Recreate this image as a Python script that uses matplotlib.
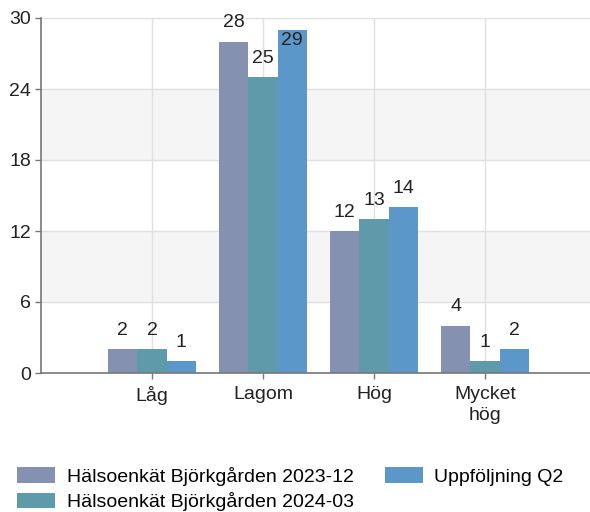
import matplotlib.pyplot as plt
import numpy as np

plt.rcParams['font.family'] = ['Liberation Sans', 'DejaVu Sans']

categories = ["Låg", "Lagom", "Hög", "Mycket\nhög"]
series_names = ["Hälsoenkät Björkgården 2023-12",
                "Hälsoenkät Björkgården 2024-03",
                "Uppföljning Q2"]
survey_2023_12 = [2, 28, 12, 4]
survey_2024_03 = [2, 25, 13, 1]
followup_q2 = [1, 29, 14, 2]
y_ticks = [0, 6, 12, 18, 24, 30]

colors = ["#8591b0", "#5f9aaa", "#5b97c9"]
bar_width = 0.264
y_max = 30
fs = 14

fig = plt.figure(figsize=(5.9, 5.12), dpi=100)
ax = fig.add_axes([41 / 590, 139 / 512, 1 - 41 / 590, (373 - 18) / 512])

x = np.arange(1, len(categories) + 1)

# alternating bands
for i in range(len(y_ticks) - 1):
    if i % 2 == 1:
        ax.axhspan(y_ticks[i], y_ticks[i + 1], color="#f5f5f5", zorder=0, lw=0)

handles = []
for j, vals in enumerate([survey_2023_12, survey_2024_03, followup_q2]):
    pos = x + (j - 1) * bar_width
    bars = ax.bar(pos, vals, bar_width, color=colors[j], label=series_names[j], zorder=3)
    handles.append(bars)
    for b, v in zip(bars, vals):
        if v > y_max - 1.5:
            ax.annotate(f"{v}", (b.get_x() + b.get_width() / 2, v), xytext=(0, -1.5),
                        textcoords="offset points", ha="center", va="top",
                        fontsize=fs, color="#222222", zorder=4, annotation_clip=False)
        else:
            ax.annotate(f"{v}", (b.get_x() + b.get_width() / 2, v), xytext=(0, 7.5),
                        textcoords="offset points", ha="center", va="bottom",
                        fontsize=fs, color="#222222", zorder=4, annotation_clip=False)

ax.set_xlim(0, 549 / 111)
ax.set_ylim(0, y_max)
ax.set_yticks(y_ticks)
ax.set_xticks(x)
ax.set_xticklabels(categories, fontsize=fs, color="#222222", linespacing=1.3)
ax.tick_params(axis="y", labelsize=fs, colors="#222222", length=4, width=1, color="#777777", pad=3)
ax.tick_params(axis="x", length=4, width=1, color="#777777", pad=5.5)

ax.grid(True, color="#e0e0e0", lw=1, zorder=1)
ax.set_axisbelow(True)
for s in ["top", "right"]:
    ax.spines[s].set_visible(False)
for s in ["left", "bottom"]:
    ax.spines[s].set_color("#777777")
    ax.spines[s].set_linewidth(1.2)
    ax.spines[s].set_zorder(5)

fig.legend(handles=handles, loc="upper left", bbox_to_anchor=(17 / 590, 1 - 467 / 512),
           ncol=2, frameon=False, fontsize=fs, handlelength=1.95, handleheight=0.88,
           labelspacing=0.32, columnspacing=1.6, handletextpad=0.6, borderpad=0,
           borderaxespad=0)

fig.savefig("out.png", dpi=100)
